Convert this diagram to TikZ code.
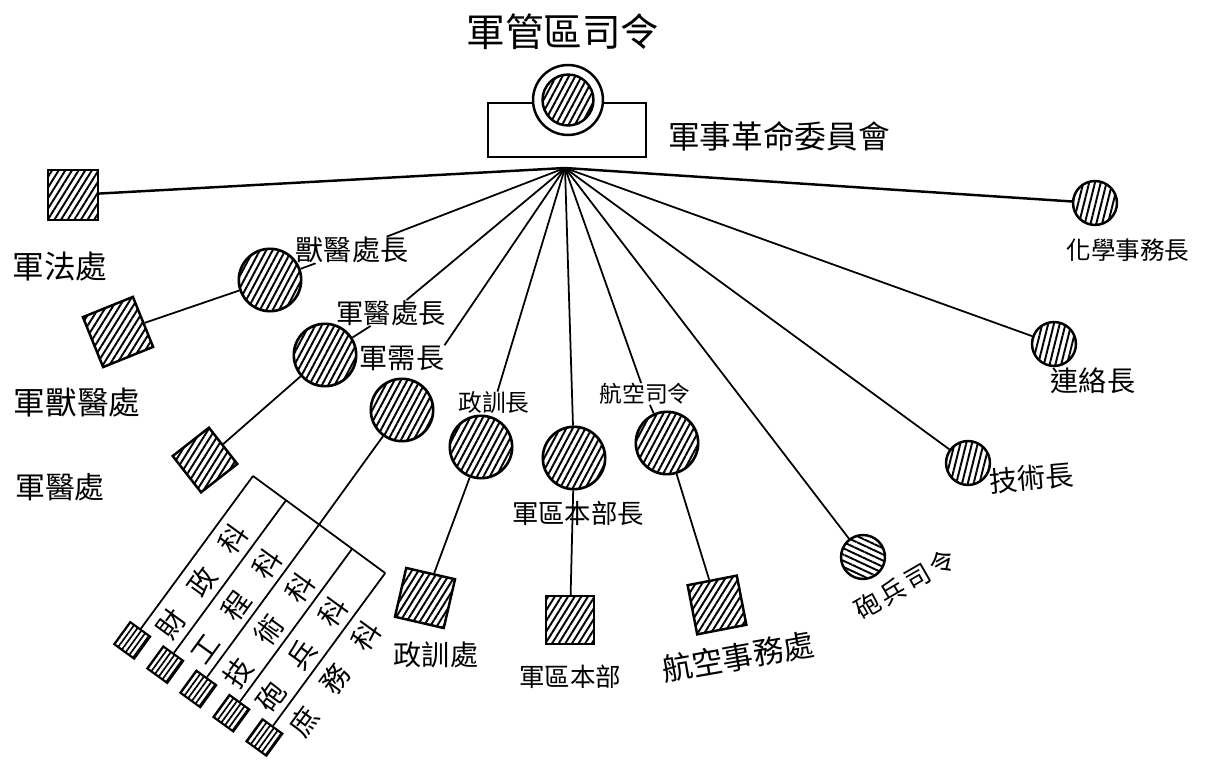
\documentclass[tikz,border=0pt]{standalone}
\usepackage{fontspec}
\setmainfont{Noto Sans CJK TC}
\usetikzlibrary{calc, patterns.meta}

\begin{document}
\begin{tikzpicture}[
    x=0.02cm, y=-0.02cm,
    hatch/.style={pattern={Lines[angle=#1, distance=3.2pt, line width=1.1pt]}},
    hatch/.default=62,
    lbl/.style={inner sep=0pt, font=\fontsize{#1}{#1}\selectfont},
    lbl/.default=16,
    post/.style={circle, draw, line width=1.5pt, minimum size=35.5pt, hatch=62},
    postsm/.style={circle, draw, line width=1.4pt, minimum size=25pt, hatch=#1},
    postsm/.default=76,
    office/.style={rectangle, draw, line width=1.4pt, minimum size=#1, hatch=58},
    office/.default=28.5pt,
    sect/.style={rectangle, draw, line width=1.2pt, minimum width=14pt, minimum height=15.5pt,
                 rotate=-36, pattern={Lines[angle=54, distance=2.6pt, line width=0.95pt]}},
    link/.style={line width=1pt},
    linkbold/.style={line width=1.4pt},
  ]
  \useasboundingbox (0,0) rectangle (1205,763);

  % Commander and committee
  \node[lbl=22] (ttl) at (563,32) {軍管區司令};
  \node[draw, line width=1.2pt, minimum width=90pt, minimum height=30.7pt] (wyh) at (567,130) {};
  \node[circle, draw, fill=white, line width=1.4pt, minimum size=39.8pt] (chief) at (568,100) {};
  \node[circle, draw, line width=1.4pt, minimum size=29pt, hatch] (chiefin) at (chief) {};
  \node[lbl=18] (wyhlbl) at (779,136) {軍事革命委員會};
  \coordinate (hub) at (565,168);

  % Left branches
  \node[office] (jfc) at (73,195) {};
  \node[lbl=18] (jfclbl) at (60,267) {軍法處};

  \node[lbl] (syzlbl) at (352,250) {獸醫處長};
  \node[post] (syz) at (270,280) {};
  \node[office=30.7pt, rotate=22] (syc) at (118,332) {};
  \node[lbl=18] (syclbl) at (77,403) {軍獸醫處};

  \node[lbl=15.5] (jyzlbl) at (391,313) {軍醫處長};
  \node[post] (jyz) at (325,355) {};
  \node[office=26.2pt, rotate=38] (jyc) at (205,460) {};
  \node[lbl=17] (jyclbl) at (60,487) {軍醫處};

  \node[lbl] (jxzlbl) at (402,358) {軍需長};
  \node[post] (jxz) at (402,410) {};

  % Middle branches
  \node[lbl=13.5] (zxzlbl) at (494,403) {政訓長};
  \node[post] (zxz) at (481,447) {};
  \node[office, rotate=-13] (zxc) at (425,598) {};
  \node[lbl] (zxclbl) at (436,655) {政訓處};

  \node[post] (jqz) at (574,458) {};
  \node[lbl=15] (jqzlbl) at (578,513) {軍區本部長};
  \node[office=27.3pt] (jqb) at (570,620) {};
  \node[lbl=14.5] (jqblbl) at (570,677) {軍區本部};

  \node[lbl=13] (hkzlbl) at (645,394) {航空司令};
  \node[post] (hkz) at (667,443) {};
  \node[office, rotate=11] (hks) at (717,605) {};
  \node[lbl=17.5, rotate=10] (hkslbl) at (738,657) {航空事務處};

  % Right branches
  \node[postsm=-25] (pbz) at (863,557) {};
  \node[lbl=14.5, rotate=30] (pbzlbl) at (905,584) {砲\hspace{2pt}兵\hspace{2pt}司\hspace{2pt}令};
  \node[postsm] (jsz) at (968,463) {};
  \node[lbl, rotate=5] (jszlbl) at (1032,478) {技術長};
  \node[postsm] (llz) at (1054,344) {};
  \node[lbl] (llzlbl) at (1093,381) {連絡長};
  \node[postsm] (hxz) at (1095,203) {};
  \node[lbl=14] (hxzlbl) at (1128,250) {化學事務長};

  % Sections under 軍需長
  \foreach \i/\ka/\kb in {0/財/政, 1/工/程, 2/技/術, 3/砲/兵, 4/庶/務} {
    \coordinate (k\i) at ($(253,476)+\i*(33.05,24.27)$);
    \node[sect] (s\i) at ($(k\i)+(-120.8,164.4)$) {};
    \node[lbl, rotate=54] (sl\i) at ($(k\i)+(-50.4,105.7)$) {\ka\hspace{14pt}\kb\hspace{14pt}科};
    \draw[link] (k\i) -- (s\i);
  }
  \draw[link] (k0) -- (k4);
  \draw[link] (jxz) -- (k2);

  % Connectors
  \draw[linkbold] (hub) -- (jfc);
  \draw[linkbold] (hub) -- (hxz);
  \draw[link] (hub) -- (syzlbl);
  \draw[link] (hub) -- (jyzlbl);
  \draw[link] (hub) -- (jxzlbl.north east);
  \draw[link] (hub) -- (zxzlbl);
  \draw[link] (hub) -- (jqz);
  \draw[link] (hub) -- (hkzlbl);
  \draw[link] (hub) -- (pbz);
  \draw[link] (hub) -- (jsz);
  \draw[link] (hub) -- (llz);
  \draw[link] (syzlbl) -- (syz);
  \draw[link] (syz) -- (syc);
  \draw[link] (jyzlbl) -- (jyz);
  \draw[link] (jyz) -- (jyc);
  \draw[link] (zxz) -- (zxc);
  \draw[link] (jqz) -- (jqb);
  \draw[link] (hkzlbl) -- (hkz);
  \draw[link] (hkz) -- (hks);

\end{tikzpicture}
\end{document}
